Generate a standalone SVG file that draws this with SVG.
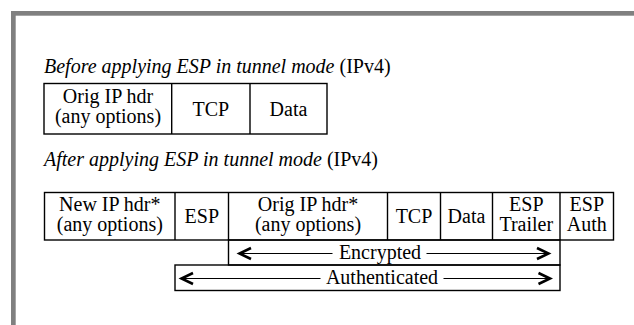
<svg xmlns="http://www.w3.org/2000/svg" width="634" height="325" viewBox="0 0 634 325">
  <style>
    text { font-family: "Liberation Serif", "Times New Roman", serif; font-size: 20px; fill: #000; }
    .c { text-anchor: middle; }
    .it { font-style: italic; }
    .box { fill: none; stroke: #000; stroke-width: 1.4; }
    .div { stroke: #000; stroke-width: 1.4; }
    .shaft { stroke: #000; stroke-width: 1.2; fill: none; }
    .head { stroke: #000; stroke-width: 2.6; fill: none; stroke-linejoin: miter; }
  </style>

  <!-- page frame -->
  <rect x="11" y="11" width="623" height="4.7" fill="#808080"/>
  <rect x="11" y="11" width="4.7" height="314" fill="#808080"/>

  <!-- captions -->
  <text id="caption-before" x="44" y="73"><tspan class="it">Before applying ESP in tunnel mode</tspan> (IPv4)</text>
  <text id="caption-after" x="44" y="165.5"><tspan class="it">After applying ESP in tunnel mode</tspan> (IPv4)</text>

  <!-- original packet -->
  <g id="packet-before">
    <rect class="box" x="44" y="83.5" width="283" height="50.5"/>
    <line class="div" x1="171.7" y1="83.5" x2="171.7" y2="134"/>
    <line class="div" x1="250" y1="83.5" x2="250" y2="134"/>
    <g id="b-orig-ip">
      <text class="c" x="108" y="102.7">Orig IP hdr</text>
      <text class="c" x="108" y="123.3">(any options)</text>
    </g>
    <text id="b-tcp" class="c" x="210.9" y="115.6">TCP</text>
    <text id="b-data" class="c" x="288.5" y="115.6">Data</text>
  </g>

  <!-- ESP tunnel packet -->
  <g id="packet-after">
    <rect class="box" x="44.5" y="192.5" width="569" height="47.5"/>
    <line class="div" x1="175" y1="192.5" x2="175" y2="240"/>
    <line class="div" x1="228.5" y1="192.5" x2="228.5" y2="240"/>
    <line class="div" x1="387.5" y1="192.5" x2="387.5" y2="240"/>
    <line class="div" x1="440.5" y1="192.5" x2="440.5" y2="240"/>
    <line class="div" x1="492.5" y1="192.5" x2="492.5" y2="240"/>
    <line class="div" x1="560" y1="192.5" x2="560" y2="240"/>
    <g id="a-new-ip">
      <text class="c" x="109.8" y="210.5">New IP hdr*</text>
      <text class="c" x="109.8" y="231">(any options)</text>
    </g>
    <text id="a-esp" class="c" x="201.8" y="223">ESP</text>
    <g id="a-orig-ip">
      <text class="c" x="308" y="210.5">Orig IP hdr*</text>
      <text class="c" x="308" y="231">(any options)</text>
    </g>
    <text id="a-tcp" class="c" x="414" y="223">TCP</text>
    <text id="a-data" class="c" x="466.5" y="223">Data</text>
    <g id="a-esp-trailer">
      <text class="c" x="526.3" y="210.5">ESP</text>
      <text class="c" x="526.3" y="231">Trailer</text>
    </g>
    <g id="a-esp-auth">
      <text class="c" x="586.8" y="210.5">ESP</text>
      <text class="c" x="586.8" y="231">Auth</text>
    </g>
  </g>

  <!-- coverage ranges -->
  <g id="range-encrypted">
    <rect class="box" x="228.5" y="240" width="331.5" height="25"/>
    <text class="c" x="380" y="258.5">Encrypted</text>
  </g>
  <g id="range-authenticated">
    <rect class="box" x="175" y="265" width="385" height="25.5"/>
    <text class="c" x="382" y="284">Authenticated</text>
  </g>

  <g id="connectors">
    <!-- encrypted span -->
    <line class="shaft" x1="239" y1="253.5" x2="332.5" y2="253.5"/>
    <line class="shaft" x1="426.5" y1="253.5" x2="549" y2="253.5"/>
    <polyline class="head" points="251,248 239.5,253.5 251,259"/>
    <polyline class="head" points="537,248 548.5,253.5 537,259"/>
    <!-- authenticated span -->
    <line class="shaft" x1="181" y1="278.5" x2="320.5" y2="278.5"/>
    <line class="shaft" x1="443.5" y1="278.5" x2="550.5" y2="278.5"/>
    <polyline class="head" points="193,273 181.5,278.5 193,284"/>
    <polyline class="head" points="538.5,273 550,278.5 538.5,284"/>
  </g>
</svg>
